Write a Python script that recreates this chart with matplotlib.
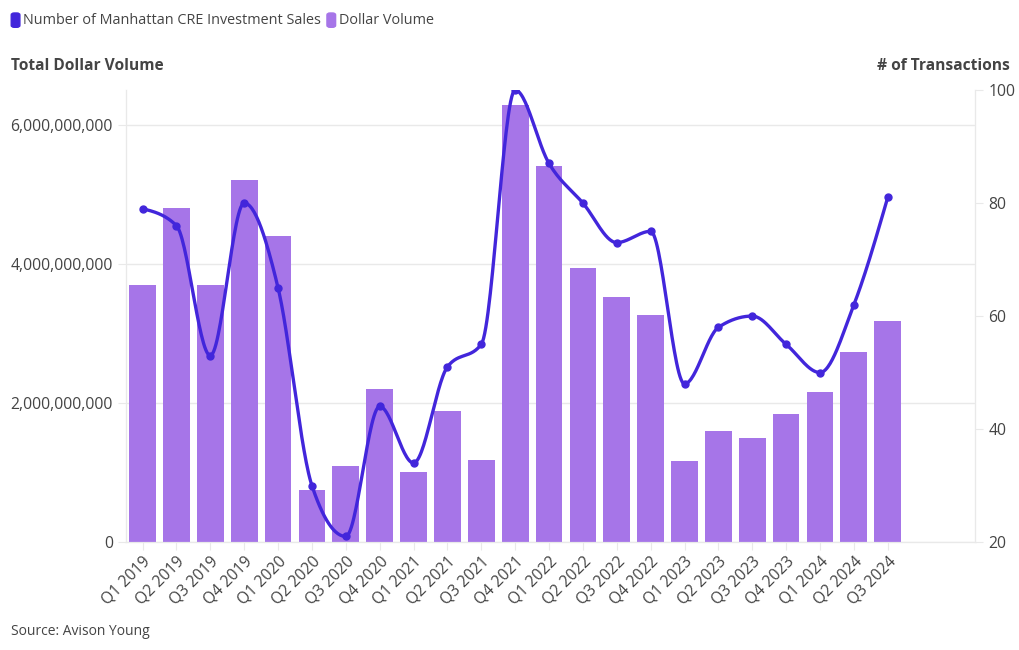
import numpy as np
import matplotlib.pyplot as plt
from matplotlib.ticker import FuncFormatter, FixedLocator
from matplotlib.patches import FancyBboxPatch

quarters = ['Q1 2019', 'Q2 2019', 'Q3 2019', 'Q4 2019', 'Q1 2020', 'Q2 2020',
            'Q3 2020', 'Q4 2020', 'Q1 2021', 'Q2 2021', 'Q3 2021', 'Q4 2021',
            'Q1 2022', 'Q2 2022', 'Q3 2022', 'Q4 2022', 'Q1 2023', 'Q2 2023',
            'Q3 2023', 'Q4 2023', 'Q1 2024', 'Q2 2024', 'Q3 2024']

# dollar volume (left axis)
dollar_volume = [3.70e9, 4.80e9, 3.70e9, 5.20e9, 4.40e9, 0.75e9,
                 1.10e9, 2.20e9, 1.01e9, 1.88e9, 1.18e9, 6.28e9,
                 5.41e9, 3.94e9, 3.53e9, 3.27e9, 1.17e9, 1.60e9,
                 1.50e9, 1.84e9, 2.16e9, 2.73e9, 3.18e9]

# number of transactions (right axis)
transactions = [79, 76, 53, 80, 65, 30,
                21, 44, 34, 51, 55, 100,
                87, 80, 73, 75, 48, 58,
                60, 55, 50, 62, 81]

bar_color = '#a675e8'
line_color = '#4226db'
text_color = '#444444'
grid_color = '#e9e9e9'


def monotone_curve(x, y, n=30):
    # d3 curveMonotoneX style smoothing, only used to draw the line
    x = np.asarray(x, float)
    y = np.asarray(y, float)
    h = np.diff(x)
    s = np.diff(y) / h
    t = np.zeros_like(y)
    for i in range(1, len(y) - 1):
        s0, s1 = s[i - 1], s[i]
        p = (s0 * h[i] + s1 * h[i - 1]) / (h[i - 1] + h[i])
        t[i] = (np.sign(s0) + np.sign(s1)) * min(abs(s0), abs(s1), 0.5 * abs(p))
    t[0] = (3 * s[0] - t[1]) / 2
    t[-1] = (3 * s[-1] - t[-2]) / 2
    xs, ys = [], []
    for i in range(len(y) - 1):
        u = np.linspace(0, 1, n, endpoint=False)
        h00 = 2 * u**3 - 3 * u**2 + 1
        h10 = u**3 - 2 * u**2 + u
        h01 = -2 * u**3 + 3 * u**2
        h11 = u**3 - u**2
        xs.append(x[i] + u * h[i])
        ys.append(h00 * y[i] + h10 * h[i] * t[i] + h01 * y[i + 1] + h11 * h[i] * t[i + 1])
    xs.append([x[-1]])
    ys.append([y[-1]])
    return np.concatenate(xs), np.concatenate(ys)


plt.rcParams['font.family'] = ['Open Sans', 'DejaVu Sans']

fig = plt.figure(figsize=(10.2, 6.5), dpi=100)
ax = fig.add_axes([0.1235, 0.166, 0.8325, 0.6955])
ax2 = ax.twinx()

x = np.arange(len(quarters))
ax.bar(x, dollar_volume, width=0.79, color=bar_color, zorder=2)
ax.set_ylim(0, 6.5e9)
ax.set_xlim(-0.49, 24.58)
ax.yaxis.set_major_locator(FixedLocator([0, 2e9, 4e9, 6e9]))
ax.yaxis.set_major_formatter(FuncFormatter(lambda v, p: f'{int(v):,}'))
ax.grid(axis='y', color=grid_color, linewidth=1, zorder=0)
ax.set_axisbelow(True)
ax.set_xticks(x)
ax.set_xticklabels(quarters, rotation=45, ha='right', rotation_mode='anchor')

cx, cy = monotone_curve(x, transactions)
ax2.plot(cx, cy, color=line_color, linewidth=2.4, zorder=3)
ax2.plot(x, transactions, 'o', color=line_color, markersize=5, zorder=4)
ax2.set_ylim(20, 100)
ax2.yaxis.set_major_locator(FixedLocator([20, 40, 60, 80, 100]))

for a in (ax, ax2):
    a.spines['top'].set_visible(False)
    a.spines['bottom'].set_color(grid_color)
    a.spines['left'].set_color(grid_color)
    a.spines['right'].set_color(grid_color)
    a.tick_params(colors=grid_color, labelcolor=text_color, labelsize=11.3, length=6)
ax.tick_params(axis='x', pad=2)

fig.text(0.011, 0.898, 'Total Dollar Volume', fontsize=11.2, fontweight='bold',
         color=text_color, va='center', ha='left')
fig.text(0.99, 0.898, '# of Transactions', fontsize=11.2, fontweight='bold',
         color=text_color, va='center', ha='right')
fig.text(0.011, 0.029, 'Source: Avison Young', fontsize=10, color=text_color,
         va='center', ha='left')

# legend row
items = [('Number of Manhattan CRE Investment Sales', line_color),
         ('Dollar Volume', bar_color)]
xpos = 0.011
renderer = fig.canvas.get_renderer()
for label, col in items:
    fig.patches.append(FancyBboxPatch((xpos, 0.958), 0.0085, 0.022,
                                      boxstyle='round,pad=0,rounding_size=0.003',
                                      transform=fig.transFigure, color=col))
    t = fig.text(xpos + 0.0115, 0.969, label, fontsize=10.4, color=text_color,
                 va='center', ha='left')
    bb = t.get_window_extent(renderer=renderer)
    xpos = bb.x1 / fig.bbox.width + 0.006

fig.savefig('out.png', dpi=100)
